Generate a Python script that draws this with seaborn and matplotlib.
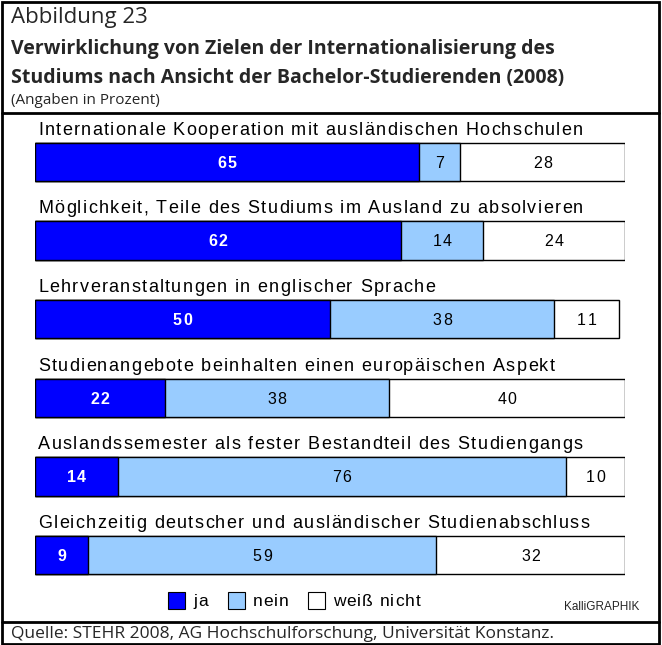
import pandas as pd
import matplotlib.pyplot as plt
import seaborn as sns
from matplotlib.patches import Rectangle
from matplotlib.lines import Line2D
from matplotlib.textpath import TextToPath
from matplotlib.font_manager import FontProperties

# Data
items = [
    "Internationale Kooperation mit ausländischen Hochschulen",
    "Möglichkeit, Teile des Studiums im Ausland zu absolvieren",
    "Lehrveranstaltungen in englischer Sprache",
    "Studienangebote beinhalten einen europäischen Aspekt",
    "Auslandssemester als fester Bestandteil des Studiengangs",
    "Gleichzeitig deutscher und ausländischer Studienabschluss",
]
ja = [65, 62, 50, 22, 14, 9]
nein = [7, 14, 38, 38, 76, 59]
weiss_nicht = [28, 24, 11, 40, 10, 32]
series_labels = ["ja", "nein", "weiß nicht"]
colors = ["#0000FF", "#99CCFF", "#FFFFFF"]

df = pd.DataFrame({"item": items, "ja": ja, "nein": nein, "weiss": weiss_nicht})
df["c1"] = df["ja"]
df["c2"] = df["ja"] + df["nein"]
df["c3"] = df["c2"] + df["weiss"]

sns.set_style("white")
W, H = 662, 645
fig = plt.figure(figsize=(W / 100, H / 100), dpi=100)

# axes: x 35..625 px, y 113..622 px
ax = fig.add_axes([35 / W, (H - 622) / H, 590 / W, (622 - 113) / H])

# stacked bars by overlaying cumulative totals
for col, c in zip(["c3", "c2", "c1"], colors[::-1]):
    sns.barplot(data=df, x=col, y="item", orient="h", color=c, width=0.49,
                edgecolor="black", linewidth=1, saturation=1, ax=ax)

ax.set_xlim(0, 100)
ax.set_ylim(5.852, -0.623)
ax.axis("off")

# letter-spaced text helper (pixel coords, origin bottom-left, y = baseline)
ttp = TextToPath()
_cache = {}


def advance(c, prop):
    key = (c, prop.get_weight(), prop.get_size())
    if key not in _cache:
        w1 = ttp.get_text_width_height_descent("x" + c + "x", prop, ismath=False)[0]
        w0 = ttp.get_text_width_height_descent("xx", prop, ismath=False)[0]
        _cache[key] = (w1 - w0) * 100 / 72
    return _cache[key]


def spaced_text(x, y, s, prop, sp, ha="left", color="black"):
    advs = [advance(c, prop) for c in s]
    total = sum(advs) + sp * (len(s) - 1)
    if ha == "center":
        x = x - total / 2
    elif ha == "right":
        x = x - total
    for c, a in zip(s, advs):
        if c != " ":
            fig.text(x / W, y / H, c, fontproperties=prop, ha="left",
                     va="baseline", color=color)
        x += a + sp


label_prop = FontProperties(family="Liberation Sans", size=13)
num_prop = FontProperties(family="Liberation Sans", size=11.5)
num_bold = FontProperties(family="Liberation Sans", size=11.5, weight="bold")

for i, row in df.iterrows():
    lx, ly = ax.transData.transform((0, i - 0.43))
    spaced_text(lx + 3, ly - 6.5, row["item"], label_prop, 1.35)
    segs = [(row["ja"] / 2, row["ja"], num_bold, "white"),
            (row["ja"] + row["nein"] / 2, row["nein"], num_prop, "black"),
            (row["c2"] + row["weiss"] / 2, row["weiss"], num_prop, "black")]
    for xc, v, prop, col in segs:
        px, py = ax.transData.transform((xc, i))
        spaced_text(px, py - 5.8, str(v), prop, 1.5, ha="center", color=col)

# legend
leg_prop = FontProperties(family="Liberation Sans", size=12.5)
for x0, c, lab in zip([168, 228, 308], colors, series_labels):
    fig.add_artist(Rectangle((x0 / W, (H - 609) / H), 17 / W, 17 / H,
                             transform=fig.transFigure, facecolor=c,
                             edgecolor="black", linewidth=0.8))
    spaced_text(x0 + 25, H - 606, lab, leg_prop, 1.0)
fig.text(639 / W, (H - 607) / H, "KalliGRAPHIK", ha="right", va="center",
         fontsize=8.5, family="Liberation Sans")

# header
fig.text(11 / W, (H - 18) / H, "Abbildung 23", ha="left", va="center",
         fontsize=16, family="Open Sans")
fig.text(11 / W, (H - 49) / H, "Verwirklichung von Zielen der Internationalisierung des",
         ha="left", va="center", fontsize=14, fontweight="bold", family="Open Sans")
fig.text(11 / W, (H - 78) / H, "Studiums nach Ansicht der Bachelor-Studierenden (2008)",
         ha="left", va="center", fontsize=14, fontweight="bold", family="Open Sans")
fig.text(11 / W, (H - 101) / H, "(Angaben in Prozent)", ha="left", va="center",
         fontsize=11, family="Open Sans")
fig.text(11 / W, (H - 634) / H, "Quelle: STEHR 2008, AG Hochschulforschung, Universität Konstanz.",
         ha="left", va="center", fontsize=12.5, family="Open Sans")

# frame and separators
fig.add_artist(Rectangle((2 / W, 1 / H), 657 / W, (H - 3) / H, transform=fig.transFigure,
                         fill=False, edgecolor="black", linewidth=2))
for yp in [113, 622]:
    fig.add_artist(Line2D([2 / W, 659 / W], [(H - yp) / H] * 2, transform=fig.transFigure,
                          color="black", linewidth=2))

fig.savefig("out.png", dpi=100)
